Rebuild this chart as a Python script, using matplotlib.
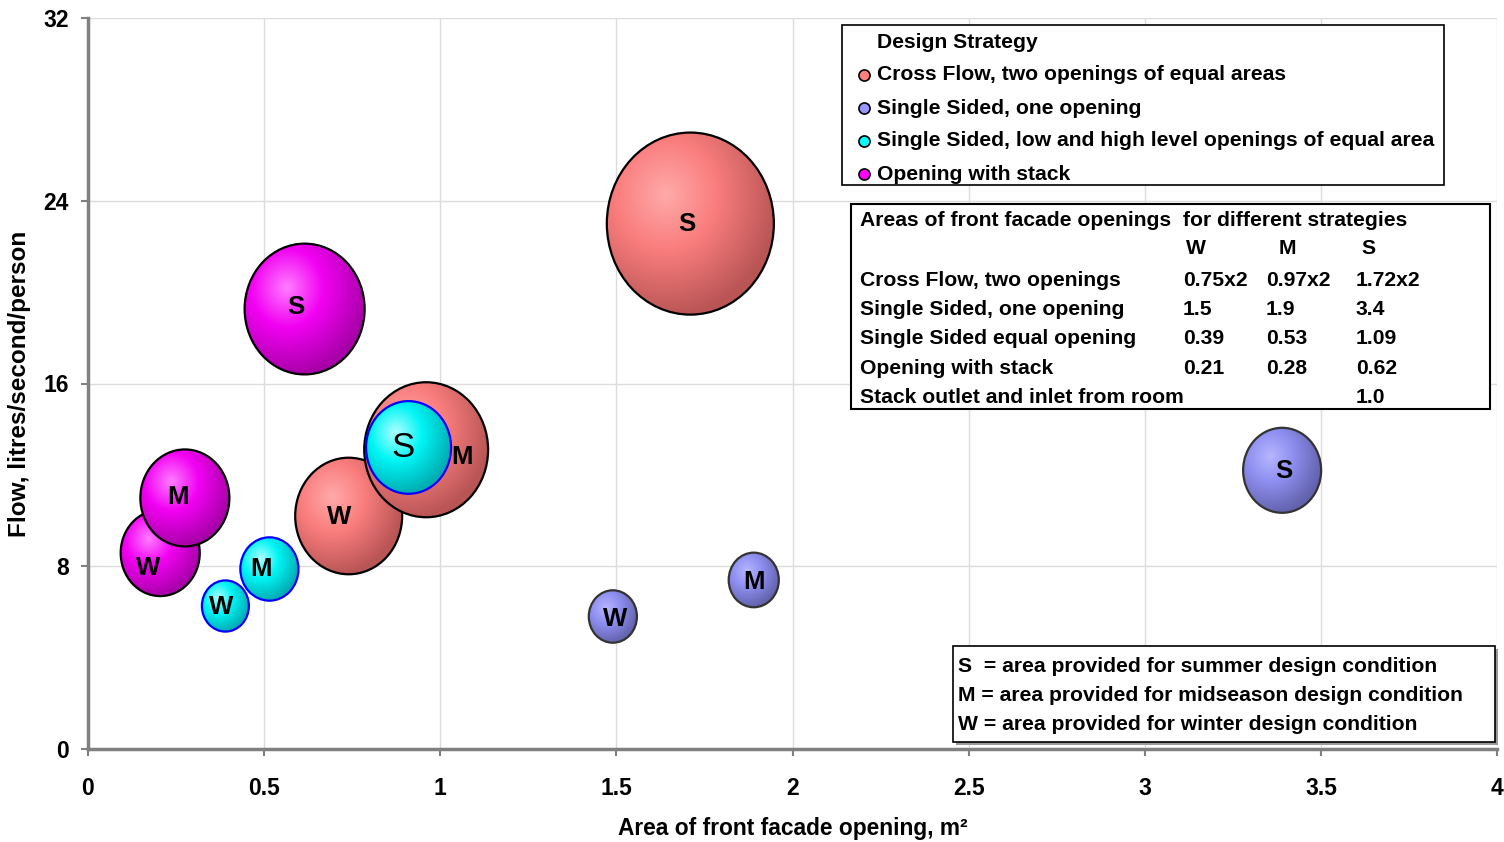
import numpy as np
import matplotlib
matplotlib.use('Agg')
import matplotlib.pyplot as plt
from matplotlib.patches import Ellipse, Rectangle
from matplotlib.lines import Line2D
from matplotlib.ticker import FuncFormatter

plt.rcParams['font.family'] = ['Liberation Sans', 'DejaVu Sans']
plt.rcParams['font.weight'] = 'bold'

# --- Data: area of opening (m2), flow (l/s/person), relative bubble size ---
seasons = ['W', 'M', 'S']

cross_x = [0.74, 0.96, 1.71]
cross_y = [10.2, 13.1, 23.0]
cross_size = [0.41, 0.55, 1.0]

single_x = [1.49, 1.89, 3.39]
single_y = [5.8, 7.4, 12.2]
single_size = [0.083, 0.090, 0.218]

equal_x = [0.39, 0.515, 0.91]
equal_y = [6.26, 7.88, 13.2]
equal_size = [0.079, 0.121, 0.259]

stack_x = [0.205, 0.275, 0.615]
stack_y = [8.58, 10.99, 19.26]
stack_size = [0.224, 0.284, 0.516]

strategies = ['Cross Flow, two openings of equal areas',
              'Single Sided, one opening',
              'Single Sided, low and high level openings of equal area',
              'Opening with stack']

table_title = 'Areas of front facade openings  for different strategies'
table_rows = ['Cross Flow, two openings', 'Single Sided, one opening',
              'Single Sided equal opening', 'Opening with stack',
              'Stack outlet and inlet from room']
table_w = ['0.75x2', '1.5', '0.39', '0.21', '']
table_m = ['0.97x2', '1.9', '0.53', '0.28', '']
table_s = ['1.72x2', '3.4', '1.09', '0.62', '1.0']

notes = ['S  = area provided for summer design condition',
         'M = area provided for midseason design condition',
         'W = area provided for winter design condition']

# --- Figure / axes in pixel terms ---
W, H = 1504, 842
fig = plt.figure(figsize=(W / 100, H / 100), dpi=100)
L, R, T, B = 88, 1497, 18, 749
ax = fig.add_axes([L / W, 1 - B / H, (R - L) / W, (B - T) / H])
px_x = (R - L) / 4.0
px_y = (B - T) / 32.0
bubble_px = 0.2285 * (B - T)   # diameter of the largest bubble
stretch = 1.09                 # bubbles are slightly taller than wide


def fx(p):
    return p / W


def fy(p):
    return 1 - p / H


def shade(light, base, dark, n=160):
    """Radial gradient with a highlight to the upper left."""
    light, base, dark = [np.array(c, float) / 255 for c in (light, base, dark)]
    u = np.linspace(-1, 1, n)
    uu, vv = np.meshgrid(u, u[::-1])
    t = np.clip(np.hypot(uu + 0.3, vv - 0.32) / 1.35, 0, 1)[..., None]
    a = np.clip(t / 0.45, 0, 1)
    b = np.clip((t - 0.45) / 0.55, 0, 1)
    rgb = np.where(t < 0.45, light * (1 - a) + base * a, base * (1 - b) + dark * b)
    return np.dstack([rgb, np.ones((n, n, 1))])


series = [
    (cross_x, cross_y, cross_size, shade((255, 170, 170), (250, 125, 125), (185, 85, 85)), 'black', (255, 128, 128)),
    (single_x, single_y, single_size, shade((182, 182, 255), (142, 142, 240), (98, 98, 172)), '#333333', (150, 150, 255)),
    (equal_x, equal_y, equal_size, shade((175, 255, 255), (0, 245, 245), (0, 172, 178)), '#0000ff', (0, 255, 255)),
    (stack_x, stack_y, stack_size, shade((255, 125, 255), (242, 0, 242), (168, 0, 168)), 'black', (255, 0, 255)),
]

# label offsets in pixels (right, down)
label_offsets = [
    [(-10, 1), (36, 7), (-4, 0)],
    [(2, 2), (0, 2), (2, 1)],
    [(-4, 1), (-8, 0), (-6, 0)],
    [(-12, 15), (-7, -1), (-9, -2)],
]

for k, (xs, ys, sizes, img, edge, _) in enumerate(series):
    for i, (x, y, s) in enumerate(zip(xs, ys, sizes)):
        d = bubble_px * np.sqrt(s)
        w = d / px_x
        h = stretch * d / px_y
        z = 2 + k * 6 + i * 2
        ell = Ellipse((x, y), w, h, facecolor='none', edgecolor=edge, lw=1.6, zorder=z + 1)
        ax.add_patch(ell)
        im = ax.imshow(img, extent=(x - w / 2, x + w / 2, y - h / 2, y + h / 2),
                       origin='upper', interpolation='bilinear', aspect='auto', zorder=z)
        im.set_clip_path(ell)
        dx, dy = label_offsets[k][i]
        big = (k == 2 and i == 2)
        ax.annotate(seasons[i], (x, y), xytext=(dx * 0.72, -dy * 0.72),
                    textcoords='offset points', ha='center', va='center',
                    fontsize=25 if big else 18.5, fontweight='normal' if big else 'bold',
                    zorder=60)

ax.set_xlim(0, 4)
ax.set_ylim(0, 32)
ax.set_xticks(np.arange(0, 4.01, 0.5))
ax.set_yticks(np.arange(0, 33, 8))
ax.xaxis.set_major_formatter(FuncFormatter(lambda v, p: f'{v:g}'))
ax.tick_params(axis='both', direction='out', length=5, width=1.5, color='#808080', labelsize=16.5)
ax.tick_params(axis='x', pad=15)
ax.tick_params(axis='y', pad=9)
ax.grid(True, color='#dcdcdc', lw=1)
ax.set_axisbelow(True)
for side in ['top', 'right']:
    ax.spines[side].set_visible(False)
for side in ['left', 'bottom']:
    ax.spines[side].set_color('#808080')
    ax.spines[side].set_linewidth(2.5)

ax.set_xlabel('Area of front facade opening, m²', fontsize=16.4, fontweight='bold')
ax.xaxis.set_label_coords(0.5, (B - 829) / (B - T))
ax.xaxis.label.set_va('center')
ax.set_ylabel('Flow, litres/second/person', fontsize=17.5, fontweight='bold')
ax.yaxis.set_label_coords((20 - L) / (R - L), (B - 384) / (B - T))
ax.yaxis.label.set_va('center')


def box(x0, y0, x1, y1, lw=1.2, shadow=False):
    if shadow:
        fig.add_artist(Rectangle((fx(x0 + 3), fy(y1 + 3)), fx(x1 - x0), (y1 - y0) / H,
                                 transform=fig.transFigure, facecolor='#9a9a9a',
                                 edgecolor='none', zorder=4))
    fig.add_artist(Rectangle((fx(x0), fy(y1)), fx(x1 - x0), (y1 - y0) / H,
                             transform=fig.transFigure, facecolor='white',
                             edgecolor='black', lw=lw, zorder=5))


def label(x, y, s, ha='left', size=15.2, weight='bold'):
    fig.text(fx(x), fy(y), s, ha=ha, va='center', fontsize=size, fontweight=weight, zorder=6)


# Design strategy key
box(842, 25, 1444, 185)
label(877, 42, 'Design Strategy')
for j, name in enumerate(strategies):
    yy = 75 + 33 * j
    fig.add_artist(Line2D([fx(864)], [fy(yy)], marker='o', markersize=8,
                          markerfacecolor=np.array(series[j][5]) / 255,
                          markeredgecolor='black', markeredgewidth=1.2,
                          transform=fig.transFigure, zorder=6))
    label(877, yy, name)

# Opening areas table
box(851, 204, 1490, 409, lw=1.5)
label(860, 221, table_title)
for hdr, xc in zip(['W', 'M', 'S'], [1196, 1287, 1368]):
    label(xc, 249, hdr, ha='center')
for j, name in enumerate(table_rows):
    yy = 280 + 29.4 * j
    label(860, yy, name)
    label(1183, yy, table_w[j])
    label(1266, yy, table_m[j])
    label(1356, yy, table_s[j])

# Season key
box(953, 646, 1495, 742, lw=1.2, shadow=True)
for j, s in enumerate(notes):
    label(958, 666 + 29.5 * j, s)

fig.savefig('out.png', dpi=100)
